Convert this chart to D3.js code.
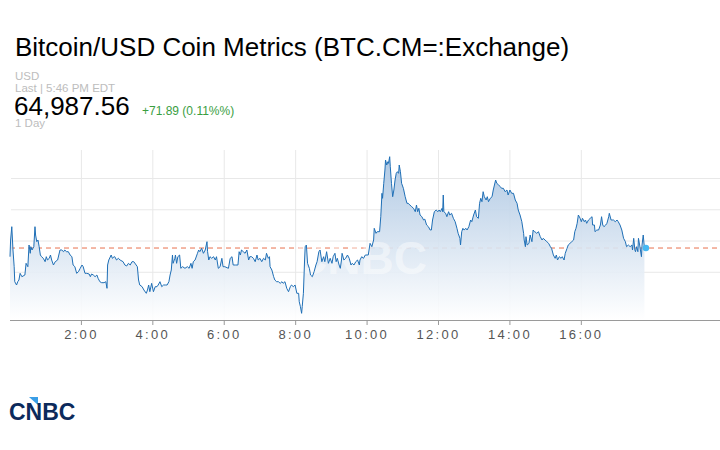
<!DOCTYPE html>
<html>
<head>
<meta charset="utf-8">
<script src="https://cdn.jsdelivr.net/npm/d3@7"></script>
<style>
    body { margin: 0; background: #fff; }
    svg { display: block; font-family: "Liberation Sans", Arial, Helvetica, sans-serif; }
</style>
</head>
<body>
<div id="chart"></div>
<script>
// Quote header
const titleText = "Bitcoin/USD Coin Metrics (BTC.CM=:Exchange)";
const currency = "USD";
const lastTime = "Last | 5:46 PM EDT";
const lastPrice = 64987.56;
const changeText = "+71.89 (0.11%%)";
const rangeText = "1 Day";

// Intraday series: minutes after midnight and price
const minutes = [
    0, 1, 3, 5, 7, 8, 11, 13, 15, 17,
    20, 22, 25, 27, 30, 32, 34, 35, 37, 40,
    42, 43, 45, 47, 49, 51, 53, 56, 59, 61,
    63, 66, 68, 70, 73, 76, 80, 84, 87, 90,
    92, 95, 98, 101, 104, 106, 109, 112, 115, 118,
    121, 123, 126, 129, 133, 135, 137, 140, 143, 146,
    148, 151, 154, 158, 161, 163, 164, 166, 170, 172,
    175, 176, 179, 182, 185, 190, 193, 196, 199, 202,
    205, 208, 212, 214, 216, 218, 222, 225, 229, 231,
    233, 235, 238, 241, 244, 247, 249, 252, 255, 258,
    261, 264, 267, 269, 271, 273, 274, 277, 278, 280,
    282, 285, 287, 290, 294, 298, 301, 304, 306, 308,
    311, 315, 317, 319, 322, 325, 328, 331, 332, 334,
    336, 339, 342, 345, 347, 350, 353, 356, 358, 361,
    367, 370, 373, 375, 379, 383, 385, 387, 389, 392,
    395, 398, 401, 403, 406, 409, 412, 415, 417, 420,
    423, 426, 429, 431, 434, 436, 437, 440, 443, 445,
    448, 451, 454, 457, 459, 462, 465, 468, 471, 473,
    476, 479, 482, 485, 486, 488, 490, 491, 493, 495,
    496, 498, 500, 503, 505, 508, 511, 514, 516, 519,
    521, 524, 527, 529, 532, 535, 538, 541, 543, 546,
    548, 550, 553, 555, 557, 558, 561, 564, 567, 570,
    573, 575, 578, 581, 584, 587, 588, 591, 594, 597,
    602, 605, 608, 611, 612, 615, 617, 621, 623, 625,
    626, 628, 630, 631, 633, 635, 636, 638, 639, 641,
    643, 645, 647, 649, 651, 653, 654, 656, 658, 661,
    664, 667, 669, 672, 675, 678, 681, 683, 685, 687,
    689, 692, 695, 697, 700, 703, 706, 708, 710, 713,
    716, 719, 721, 723, 726, 727, 728, 729, 732, 734,
    737, 739, 742, 745, 748, 751, 753, 756, 757, 759,
    761, 763, 766, 768, 771, 774, 776, 779, 782, 784,
    787, 789, 791, 793, 795, 797, 800, 802, 804, 807,
    810, 812, 814, 816, 818, 821, 824, 826, 829, 832,
    835, 837, 840, 843, 846, 849, 852, 854, 857, 860,
    863, 864, 866, 867, 869, 872, 874, 877, 879, 881,
    882, 885, 888, 891, 894, 896, 899, 902, 905, 908,
    910, 913, 916, 918, 920, 923, 926, 928, 931, 933,
    936, 938, 941, 944, 947, 949, 951, 953, 955, 958,
    960, 962, 965, 967, 969, 972, 975, 978, 979, 982,
    983, 986, 989, 992, 994, 996, 998, 1001, 1003, 1006,
    1007, 1010, 1012, 1014, 1017, 1020, 1022, 1025, 1028, 1031,
    1034, 1036, 1039, 1042, 1045, 1046, 1048, 1050, 1051, 1053,
    1055, 1056, 1058, 1061, 1062, 1064, 1066
];
const prices = [
    64849, 65116, 65329, 64956, 64689, 64449, 64396, 64449, 64476, 64583,
    64529, 64540, 64556, 64743, 64689, 65036, 64903, 65009, 64956, 65009,
    65329, 65196, 65089, 65116, 65009, 64876, 64849, 64823, 64769, 64849,
    64796, 64823, 64876, 64796, 64716, 64769, 64796, 64956, 64956, 64929,
    64956, 64929, 64929, 64876, 64849, 64716, 64689, 64583, 64609, 64663,
    64716, 64689, 64583, 64583, 64572, 64529, 64572, 64556, 64529, 64556,
    64503, 64449, 64433, 64433, 64449, 64343, 64716, 64796, 64876, 64823,
    64849, 64849, 64796, 64823, 64796, 64769, 64716, 64700, 64743, 64716,
    64769, 64769, 64716, 64689, 64476, 64396, 64369, 64316, 64263, 64316,
    64396, 64289, 64423, 64289, 64369, 64369, 64396, 64449, 64369, 64396,
    64396, 64396, 64449, 64556, 64636, 64876, 64743, 64823, 64876, 64743,
    64849, 64876, 64663, 64689, 64663, 64689, 64663, 64743, 64663, 64769,
    64796, 64903, 64956, 64929, 64983, 64903, 64956, 65089, 64929, 64796,
    64849, 64823, 64849, 64796, 64849, 64663, 64689, 64823, 64689, 64689,
    64663, 64823, 64849, 64716, 64716, 64716, 64929, 64876, 64956, 64929,
    64903, 64956, 64796, 64849, 64849, 64823, 64769, 64876, 64796, 64823,
    64769, 64823, 64796, 64903, 64823, 64849, 64689, 64636, 64529, 64476,
    64449, 64449, 64423, 64449, 64423, 64449, 64343, 64289, 64369, 64396,
    64369, 64396, 64263, 64263, 64129, 64049, 63943, 64049, 64263, 64796,
    65009, 65036, 64743, 64663, 64556, 64529, 64609, 64716, 64769, 64929,
    64956, 64769, 64849, 64769, 64929, 64743, 64823, 64743, 64849, 64903,
    64769, 64823, 64716, 64663, 64796, 64903, 64796, 64823, 64876, 64823,
    64716, 64743, 64716, 64769, 64796, 64716, 64796, 64849, 64823, 64876,
    64876, 65063, 65009, 65116, 65303, 65223, 65249, 65249, 65489, 65863,
    65783, 66023, 66236, 66396, 66316, 66369, 66343, 66449, 66289, 66023,
    65809, 65916, 66076, 66183, 66209, 66183, 66316, 66209, 66023, 65943,
    65809, 65703, 65703, 65676, 65649, 65623, 65569, 65676, 65569, 65623,
    65516, 65489, 65436, 65450, 65356, 65329, 65276, 65276, 65436, 65569,
    65596, 65569, 65596, 65569, 65623, 65569, 65836, 65569, 65543, 65489,
    65569, 65516, 65543, 65463, 65409, 65303, 65223, 65143, 65036, 65249,
    65303, 65276, 65303, 65276, 65329, 65436, 65409, 65516, 65596, 65489,
    65463, 65703, 65783, 65729, 65889, 65809, 65756, 65809, 65729, 65783,
    65809, 65916, 65996, 66076, 66023, 65996, 65969, 65943, 65943, 65889,
    65916, 65836, 65916, 65863, 65863, 65756, 65703, 65596, 65516, 65409,
    65223, 65116, 65009, 65169, 65036, 65063, 65196, 65089, 65276, 65249,
    65249, 65223, 65249, 65169, 65116, 65143, 65116, 65089, 65063, 65009,
    64983, 64876, 64823, 64876, 64796, 64849, 64823, 64849, 64796, 64903,
    64983, 65036, 65063, 65089, 65116, 65249, 65303, 65383, 65516, 65463,
    65409, 65463, 65409, 65436, 65383, 65436, 65463, 65489, 65356, 65356,
    65249, 65276, 65276, 65356, 65489, 65356, 65329, 65356, 65383, 65489,
    65543, 65436, 65436, 65436, 65409, 65436, 65409, 65356, 65276, 65143,
    65089, 65009, 65036, 65009, 65036, 64956, 65143, 64956, 64929, 65009,
    64929, 65143, 65036, 64849, 65036, 65196, 64987.56
];

// Axis ticks (minutes after midnight) and their labels
const tickMinutes = [120, 240, 360, 480, 600, 720, 840, 960];
const tickLabels = ["2:00", "4:00", "6:00", "8:00", "10:00", "12:00", "14:00", "16:00"];
// Unlabelled horizontal grid levels
const gridPrices = [64600, 65100, 65600, 66100];

let width = 720, height = 450;
let plot = { left: 10, right: 720, top: 150, bottom: 320 };

let svg = d3.select("#chart").append("svg")
    .attr("width", width)
    .attr("height", height);

svg.append("rect").attr("width", width).attr("height", height).attr("fill", "#fff");

// Header text
svg.append("text").attr("x", 15).attr("y", 56)
    .attr("font-size", 26).attr("fill", "#000").text(titleText);
svg.append("text").attr("x", 15).attr("y", 80)
    .attr("font-size", 11.5).attr("fill", "#bdbdbd").text(currency);
svg.append("text").attr("x", 15).attr("y", 92)
    .attr("font-size", 11.5).attr("fill", "#bdbdbd").text(lastTime);
svg.append("text").attr("x", 14).attr("y", 115)
    .attr("font-size", 26).attr("fill", "#000").text(d3.format(",.2f")(lastPrice));
svg.append("text").attr("x", 142).attr("y", 115)
    .attr("font-size", 12).attr("fill", "#3a9e3f").text(changeText);
svg.append("text").attr("x", 15).attr("y", 127)
    .attr("font-size", 11.5).attr("fill", "#bdbdbd").text(rangeText);

// Scales
let x = d3.scaleLinear().domain([0, 1193]).range([plot.left, plot.right]);
let y = d3.scaleLinear().domain([63836, 66556]).range([plot.bottom, plot.top]);

let data = minutes.map((m, i) => ({ t: m, p: prices[i] }));

// Grid
svg.append("g").selectAll("line.h")
    .data(gridPrices).enter().append("line")
    .attr("x1", plot.left + 1).attr("x2", plot.right)
    .attr("y1", d => y(d)).attr("y2", d => y(d))
    .attr("stroke", "#e8e8e8").attr("stroke-width", 1);

svg.append("g").selectAll("line.v")
    .data(tickMinutes).enter().append("line")
    .attr("x1", d => x(d)).attr("x2", d => x(d))
    .attr("y1", plot.top).attr("y2", plot.bottom)
    .attr("stroke", "#e8e8e8").attr("stroke-width", 1);

// Last price reference line (sits under the fill)
svg.append("line")
    .attr("x1", plot.left).attr("x2", plot.right)
    .attr("y1", y(lastPrice)).attr("y2", y(lastPrice))
    .attr("stroke", "#e8704e").attr("stroke-width", 1)
    .attr("stroke-dasharray", "5,4");

// Area gradient
let defs = svg.append("defs");
let grad = defs.append("linearGradient")
    .attr("id", "fillGrad")
    .attr("gradientUnits", "userSpaceOnUse")
    .attr("x1", 0).attr("x2", 0)
    .attr("y1", y(d3.max(prices))).attr("y2", plot.bottom);
grad.append("stop").attr("offset", "0%").attr("stop-color", "#a9c4e1").attr("stop-opacity", 0.92);
grad.append("stop").attr("offset", "100%").attr("stop-color", "#ffffff").attr("stop-opacity", 0.9);

let area = d3.area()
    .x(d => x(d.t))
    .y0(plot.bottom)
    .y1(d => y(d.p));

svg.append("path")
    .datum(data)
    .attr("d", area)
    .attr("fill", "url(#fillGrad)");

// Watermark
svg.append("text")
    .attr("x", 427).attr("y", 274)
    .attr("text-anchor", "end")
    .attr("font-size", 46).attr("font-weight", "bold")
    .attr("fill", "#fff").attr("fill-opacity", 0.45)
    .text("CNBC");

// Price line
let line = d3.line()
    .x(d => x(d.t))
    .y(d => y(d.p));

svg.append("path")
    .datum(data)
    .attr("d", line)
    .attr("fill", "none")
    .attr("stroke", "#1f6fb6")
    .attr("stroke-width", 1)
    .attr("stroke-linejoin", "round");

// Last point marker
let last = data[data.length - 1];
svg.append("circle")
    .attr("cx", x(last.t) + 1.5).attr("cy", y(last.p))
    .attr("r", 3.2)
    .attr("fill", "#45b8f2");

// X axis
svg.append("line")
    .attr("x1", plot.left).attr("x2", plot.right)
    .attr("y1", plot.bottom + 0.5).attr("y2", plot.bottom + 0.5)
    .attr("stroke", "#9a9a9a").attr("stroke-width", 1);

let ticks = svg.append("g").selectAll("g")
    .data(tickMinutes).enter().append("g")
    .attr("transform", d => "translate(" + x(d) + "," + plot.bottom + ")");

ticks.append("line")
    .attr("y1", 0).attr("y2", 5)
    .attr("stroke", "#9a9a9a");

ticks.append("text")
    .attr("y", 19)
    .attr("text-anchor", "middle")
    .attr("font-size", 13)
    .attr("letter-spacing", "2.3px")
    .attr("fill", "#555")
    .text((d, i) => tickLabels[i]);

// CNBC logo
let logo = svg.append("g");
logo.append("polygon")
    .attr("points", "29,397 38,397 38,405")
    .attr("fill", "#3a9ee6");
logo.append("text")
    .attr("x", 9).attr("y", 420)
    .attr("font-size", 23).attr("font-weight", "bold")
    .attr("fill", "#0c2a5b")
    .text("CNBC");
</script>
</body>
</html>
